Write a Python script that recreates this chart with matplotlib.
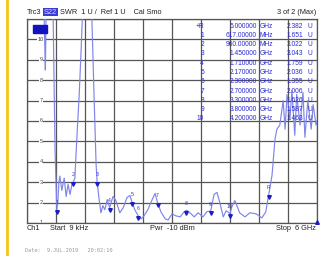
import matplotlib
matplotlib.use("Agg")
import matplotlib.pyplot as plt

plt.rcParams["font.family"] = ["Liberation Sans", "DejaVu Sans"]

# trace: frequency (GHz) vs SWR
freq = [0.009, 0.27, 0.35, 0.37, 0.38, 0.40, 0.48, 0.54, 0.58, 0.617, 0.64, 0.66, 0.68,
        0.72, 0.77, 0.81, 0.85, 0.89, 0.93, 0.96, 0.99, 1.03, 1.08, 1.12, 1.16, 1.26,
        1.34, 1.39, 1.43, 1.45, 1.49, 1.53, 1.57, 1.61, 1.66, 1.71, 1.78, 1.84, 1.92,
        1.99, 2.07, 2.13, 2.17, 2.23, 2.30, 2.36, 2.42, 2.50, 2.59, 2.65, 2.70, 2.77,
        2.86, 2.92, 3.00, 3.08, 3.17, 3.25, 3.30, 3.35, 3.46, 3.54, 3.64, 3.72, 3.80,
        3.87, 3.93, 3.99, 4.06, 4.12, 4.20, 4.24, 4.30, 4.40, 4.51, 4.61, 4.74, 4.86,
        4.94, 5.00, 5.07, 5.13, 5.17, 5.23, 5.30, 5.34, 5.38, 5.44, 5.48, 5.54, 5.58,
        5.65, 5.71, 5.75, 5.81, 5.88, 5.92, 5.98, 6.00]
swr = [14.0, 13.0, 11.5, 9.5, 8.5, 12.0, 13.0, 11.2, 4.6, 1.651, 2.1, 3.0, 3.3,
       2.6, 3.2, 2.3, 2.9, 2.4, 2.9, 3.022, 3.2, 5.1, 7.3, 9.5, 12.0, 14.0,
       11.2, 7.0, 3.85, 3.043, 2.2, 1.5, 1.85, 1.65, 2.15, 1.759, 2.3, 2.1, 1.5,
       1.75, 2.25, 2.35, 2.036, 1.65, 1.355, 1.2, 1.35, 1.65, 2.15, 2.45, 2.006, 1.55,
       1.2, 1.15, 1.45, 1.35, 1.3, 1.55, 1.626, 1.55, 1.3, 1.5, 1.3, 1.55, 1.587,
       2.4, 2.5, 2.0, 1.3, 1.6, 1.463, 1.8, 2.1, 1.5, 1.3, 1.5, 1.45, 1.25,
       1.55, 2.382, 3.35, 5.1, 5.6, 5.8, 7.0, 5.6, 7.3, 6.1, 7.5, 5.3, 7.3,
       5.8, 7.4, 5.2, 7.0, 5.6, 6.8, 5.8, 6.0]

# marker table
mk_names = ["R", "1", "2", "3", "4", "5", "6", "7", "8", "9", "10"]
mk_freq = [5.0, 0.617, 0.96, 1.45, 1.71, 2.17, 2.30, 2.70, 3.30, 3.80, 4.20]
mk_freq_txt = ["5.000000", "617.00000", "960.00000", "1.450000", "1.710000", "2.170000",
               "2.300000", "2.700000", "3.300000", "3.800000", "4.200000"]
mk_unit = ["GHz", "MHz", "MHz", "GHz", "GHz", "GHz", "GHz", "GHz", "GHz", "GHz", "GHz"]
mk_swr = [2.382, 1.651, 3.022, 3.043, 1.759, 2.036, 1.355, 2.006, 1.626, 1.587, 1.463]

y_ticks = [1, 2, 3, 4, 5, 6, 7, 8, 9, 10]

W, H = 320, 256
fig = plt.figure(figsize=(W / 100, H / 100), dpi=100)
fig.patch.set_facecolor("white")

# yellow bar on the left edge
fig.add_artist(plt.Line2D([7 / W, 7 / W], [0, 1], color="#f5c518", lw=2.0))

ax = fig.add_axes([27 / W, 1 - 223 / H, 290 / W, 204 / H])
ax.set_xlim(0, 6)
ax.set_ylim(1, 11)
ax.set_xticks([i * 0.6 for i in range(11)])
ax.set_yticks(range(1, 12))
ax.grid(True, color="#555555", lw=0.9)
ax.tick_params(length=0, labelbottom=False, labelleft=False)
for s in ax.spines.values():
    s.set_color("#555555")
    s.set_linewidth(0.9)

ax.plot(freq, swr, color="#8085e8", lw=0.85, zorder=3)

for t in y_ticks:
    ax.text(0.29, t, str(t), fontsize=4, color="#444444", ha="center", va="center",
            bbox=dict(facecolor="white", edgecolor="none", pad=0.4), zorder=2)

# markers on trace
for n, f, v in zip(mk_names, mk_freq, mk_swr):
    ax.plot(f, v - 0.12, marker="v", ms=2.6, color="#1c1cc8", zorder=4)
    ax.text(f, v + 0.22, n, fontsize=3.8, color="#3a3ad0", ha="center", va="bottom", zorder=4)
ax.plot(6.0, 1.05, marker="^", ms=2.6, color="#1c1cc8", clip_on=False, zorder=4)

# active marker box
fig.add_artist(plt.Rectangle((33 / W, 1 - 33 / H), 14 / W, 8 / H, color="#1212c0"))

# marker table
for i in range(len(mk_names)):
    y = 1 - (26 + i * 9.3) / H
    lab = "+R" if mk_names[i] == "R" else mk_names[i]
    kw = dict(fontsize=4.8, color="#2a2ad0", va="center")
    fig.text(204 / W, y, lab, ha="right", **kw)
    fig.text(257 / W, y, mk_freq_txt[i], ha="right", **kw)
    fig.text(260 / W, y, mk_unit[i], ha="left", **kw)
    fig.text(303 / W, y, f"{mk_swr[i]:.3f}", ha="right", **kw)
    fig.text(307 / W, y, "U", ha="left", **kw)

# header line
hy = 1 - 12 / H
fig.text(27 / W, hy, "Trc3", fontsize=5.3, color="#222222", va="center")
fig.text(44 / W, hy, "S22", fontsize=5.3, color="#dde0ff", va="center",
         bbox=dict(facecolor="#3b3bd6", edgecolor="none", pad=0.5))
fig.text(60 / W, hy, "SWR  1 U /  Ref 1 U    Cal Smo", fontsize=5.3, color="#222222",
         va="center")
fig.text(316 / W, hy, "3 of 2 (Max)", fontsize=5.3, color="#222222", va="center", ha="right")

# footer line
fy = 1 - 229 / H
fig.text(27 / W, fy, "Ch1", fontsize=5.3, color="#222222", va="center")
fig.text(50 / W, fy, "Start  9 kHz", fontsize=5.3, color="#222222", va="center")
fig.text(172 / W, fy, "Pwr  -10 dBm", fontsize=5.3, color="#222222", va="center", ha="center")
fig.text(316 / W, fy, "Stop  6 GHz", fontsize=5.3, color="#222222", va="center", ha="right")

fig.text(25 / W, 1 - 250 / H, "Date:  9.JUL.2019   20:02:10", fontsize=3.8, color="#999999",
         va="center", family="DejaVu Sans Mono")

fig.savefig("out.png", dpi=100)
